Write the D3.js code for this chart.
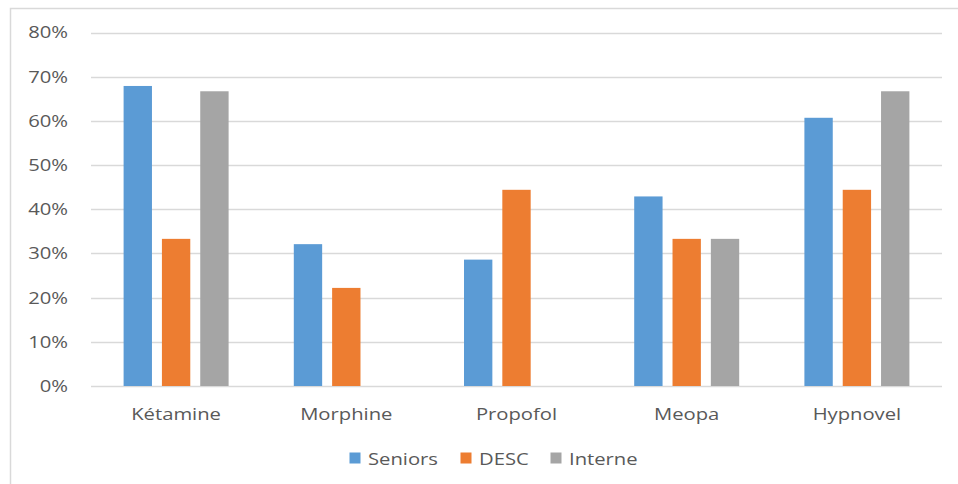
<!DOCTYPE html>
<html><head><meta charset="utf-8">
<script src="https://cdn.jsdelivr.net/npm/d3@7"></script>
<style>body{margin:0;background:#fff}svg{display:block}</style>
</head><body><svg id="c" width="958" height="484"></svg>
<script>
const categories = ["Kétamine","Morphine","Propofol","Meopa","Hypnovel"];
const seriesNames = ["Seniors","DESC","Interne"];
const seniors = [0.679,0.321,0.286,0.429,0.607];
const desc = [0.333,0.222,0.444,0.333,0.444];
const interne = [0.667,0,0,0.333,0.667];
const yTicks = [0,0.1,0.2,0.3,0.4,0.5,0.6,0.7,0.8];
const colors = ["#5b9bd5","#ed7d31","#a5a5a5"];
const seriesValues = [seniors, desc, interne];

const svg = d3.select("#c");
const font = "'Open Sans', sans-serif";
const stretch = "scale(1.19,1)";
// frame
svg.append("path").attr("d","M10.5,484 L10.5,8.5 L958,8.5").attr("fill","none").attr("stroke","#d9d9d9").attr("stroke-width",1.5);

const x0 = d3.scaleBand().domain(categories).range([91,942]).paddingInner(0).paddingOuter(0);
const x1 = d3.scaleBand().domain(seriesNames).range([0,105]).paddingInner(0.26);
const y = d3.scaleLinear().domain([0,0.8]).range([386,32.5]);

const g = svg.append("g");
g.selectAll("line.grid").data(yTicks).join("line")
  .attr("x1",91).attr("x2",942).attr("y1",d=>Math.round(y(d))+0.5).attr("y2",d=>Math.round(y(d))+0.5)
  .attr("stroke","#d9d9d9").attr("stroke-width",1.5);

const yAxis = d3.axisLeft(y).tickValues(yTicks).tickFormat(d3.format(".0%")).tickSize(0).tickPadding(0);
const ya = svg.append("g").attr("transform","translate(68,0)").call(yAxis);
ya.select(".domain").remove();
ya.selectAll("text").attr("x",0).attr("font-family",font).attr("font-size",17).attr("fill","#595959").attr("transform",stretch);

seriesNames.forEach((s,si)=>{
  g.selectAll("rect.s"+si).data(categories).join("rect")
    .attr("x",(c)=>x0(c)+x0.bandwidth()/2-52.5+x1(s))
    .attr("width",x1.bandwidth())
    .attr("y",(c,i)=>y(seriesValues[si][i]))
    .attr("height",(c,i)=>y(0)-y(seriesValues[si][i]))
    .attr("fill",colors[si]);
});

const xAxis = d3.axisBottom(x0).tickSize(0).tickPadding(0);
const xa = svg.append("g").attr("transform","translate(0,419.5)").call(xAxis);
xa.select(".domain").remove();
xa.selectAll("text").attr("y",0).attr("font-family",font).attr("font-size",17).attr("fill","#595959").attr("dy","0").attr("transform",stretch);

const legendX = [349,460,550];
const lg = svg.append("g");
seriesNames.forEach((s,i)=>{
  lg.append("rect").attr("x",legendX[i]+0.5).attr("y",452.5).attr("width",11).attr("height",11).attr("fill",colors[i]);
  lg.append("g").attr("transform",`translate(${legendX[i]+19},465)`)
    .append("text").text(s).attr("transform",stretch)
    .attr("font-family",font).attr("font-size",17).attr("fill","#595959");
});
</script></body></html>
